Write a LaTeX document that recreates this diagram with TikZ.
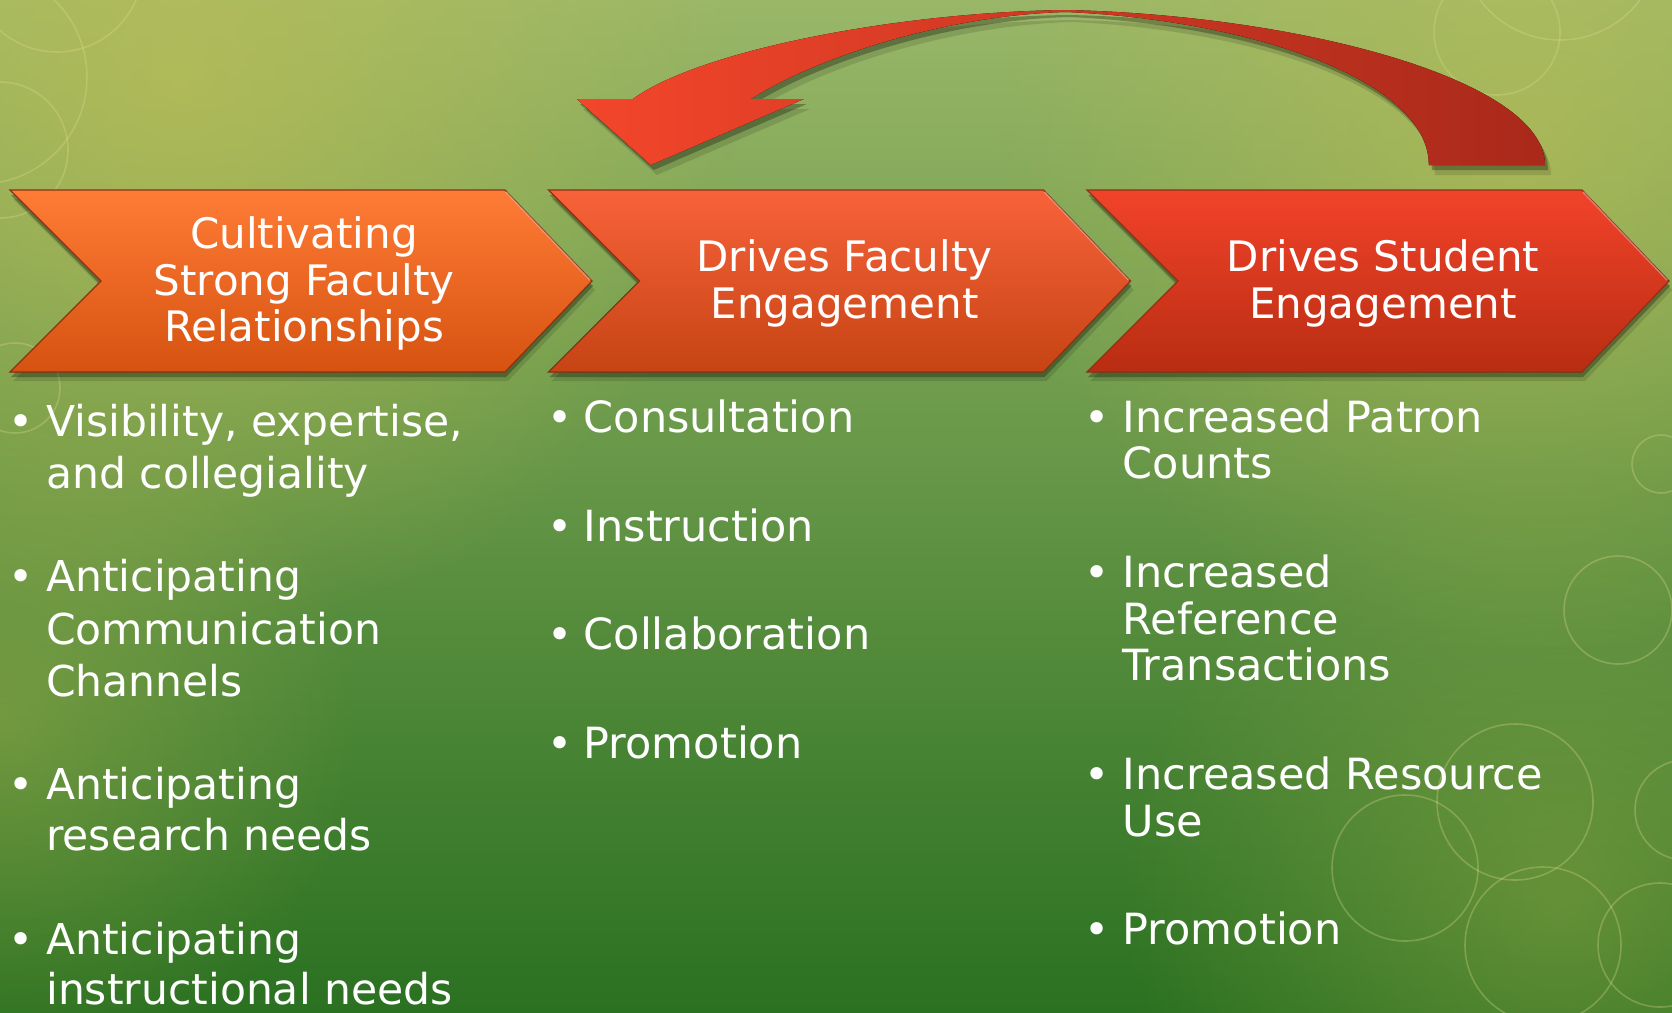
\documentclass[tikz,border=0pt]{standalone}
\usepackage{fontspec}
\setmainfont{DejaVu Sans}
\usetikzlibrary{fadings}
\tikzfading[name=glow, inner color=transparent!0, outer color=transparent!100]
\definecolor{bgtop}{HTML}{9AB768}
\definecolor{bgmid}{HTML}{4F8F3B}
\definecolor{bgbot}{HTML}{2A7121}
\definecolor{glowy}{HTML}{BDBE55}
\definecolor{ringc}{HTML}{E2DC92}
\definecolor{cAt}{HTML}{FF7C36}
\definecolor{cAb}{HTML}{D65210}
\definecolor{cBt}{HTML}{F8623A}
\definecolor{cBb}{HTML}{C64414}
\definecolor{cCt}{HTML}{F2432A}
\definecolor{cCb}{HTML}{B82D12}
\definecolor{chedge}{HTML}{8A3316}
\definecolor{arrL}{HTML}{F3462B}
\definecolor{arrR}{HTML}{A9291A}
\newcommand{\hfont}{\fontsize{42}{46}\selectfont}
\newcommand{\bfontA}{\fontsize{42.5}{46}\selectfont}
\newcommand{\bfontB}{\fontsize{43}{46}\selectfont}
\begin{document}
\begin{tikzpicture}[x=1pt,y=-1pt,
  ring/.style={draw=ringc, opacity=0.3, line width=1.6pt},
  gl/.style={fill=glowy, path fading=glow},
  head/.style={text=white, font=\hfont, anchor=base, inner sep=0pt},
  bl/.style={text=white, font=\bfontB, anchor=base west, inner sep=0pt},
  bla/.style={bl, font=\bfontA},
  bdot/.style={text=white, font=\bfontA, anchor=base, inner sep=0pt},
  shad/.style={fill=black, opacity=0.28},
  shadsoft/.style={fill=black, opacity=0.12}]
\useasboundingbox (0,0) rectangle (1672,1012);
\clip (0,0) rectangle (1672,1012);
% background
\fill[top color=bgtop, middle color=bgmid, bottom color=bgbot] (0,0) rectangle (1672,1012);
\fill[gl, opacity=0.7] (180,80) circle (560pt);
\fill[gl, opacity=0.6] (1520,140) circle (520pt);
\fill[gl, opacity=0.35] (0,720) circle (360pt);
\fill[gl, opacity=0.35] (1560,900) circle (440pt);
% rings
\draw[ring] (57,-34) circle (86pt);
\draw[ring] (-20,77) circle (107pt);
\draw[ring] (0,150) circle (68pt);
\draw[ring] (15,388) circle (45pt);
\draw[ring] (1497,32) circle (63pt);
\draw[ring] (1560,-60) circle (100pt);
\draw[ring] (1661,464) circle (29pt);
\draw[ring] (1618,610) circle (54pt);
\draw[ring] (1515,802) circle (78pt);
\draw[ring] (1405,868) circle (73pt);
\draw[ring] (1543,945) circle (78pt);
\draw[ring] (1660,945) circle (62pt);
\draw[ring] (1685,810) circle (50pt);
% curved arrow
\newcommand{\arrowpath}{(650.8,165) -- (576.8,99) -- (632.9,99)
  .. controls (700,50) and (900,12) .. (1066,10)
  .. controls (1300,15) and (1545,80) .. (1545,165) -- (1428.8,165)
  .. controls (1429,80) and (1250,20) .. (1066,12)
  .. controls (950,15) and (820,55) .. (750.9,99) -- (803.8,99) -- cycle}
\fill[shadsoft, shift={(6,10)}] \arrowpath;
\fill[shad, shift={(3,5)}] \arrowpath;
\fill[left color=arrL, right color=arrR] \arrowpath;
% chevrons
\foreach \x/\ct/\cb in {10/cAt/cAb, 548.5/cBt/cBb, 1087/cCt/cCb}{
  \fill[shadsoft] (\x+3,199) -- ++(495,0) -- ++(87,91) -- ++(-87,91) -- ++(-495,0) -- ++(91,-91) -- cycle;
  \fill[shad] (\x+1,195) -- ++(495,0) -- ++(87,91) -- ++(-87,91) -- ++(-495,0) -- ++(91,-91) -- cycle;
  \filldraw[top color=\ct, bottom color=\cb, draw=chedge, line width=1.2pt]
    (\x,190) -- ++(495,0) -- ++(87,91) -- ++(-87,91) -- ++(-495,0) -- ++(91,-91) -- cycle;
  \draw[white, opacity=0.35, line width=1.5pt] (\x+496,192) -- ++(84,88);
}
% headings
\node[head] (h1a) at (304,248.3) {Cultivating};
\node[head] (h1b) at (304,295) {Strong Faculty};
\node[head] (h1c) at (304,341.7) {Relationships};
\node[head] (h2a) at (844.5,271.7) {Drives Faculty};
\node[head] (h2b) at (844.5,318.3) {Engagement};
\node[head] (h3a) at (1383,271.7) {Drives Student};
\node[head] (h3b) at (1383,318.3) {Engagement};
% column 1
\node[bdot] (d11) at (20.7,436.4) {•};
\node[bla] (t11a) at (46,436.4) {Visibility, expertise,};
\node[bla] (t11b) at (46,488) {and collegiality};
\node[bdot] (d12) at (20.7,591.6) {•};
\node[bla] (t12a) at (46,591.6) {Anticipating};
\node[bla] (t12b) at (46,644) {Communication};
\node[bla] (t12c) at (46,696.4) {Channels};
\node[bdot] (d13) at (20.7,799.2) {•};
\node[bla] (t13a) at (46,799.2) {Anticipating};
\node[bla] (t13b) at (46,850.8) {research needs};
\node[bdot] (d14) at (20.7,954.4) {•};
\node[bla] (t14a) at (46,954.4) {Anticipating};
\node[bla] (t14b) at (46,1004.7) {instructional needs};
% column 2
\node[bdot] (d21) at (559.6,432.4) {•};
\node[bl] (t21) at (583.5,432.4) {Consultation};
\node[bdot] (d22) at (559.6,541.2) {•};
\node[bl] (t22) at (583.5,541.2) {Instruction};
\node[bdot] (d23) at (559.6,649.3) {•};
\node[bl] (t23) at (583.5,649.3) {Collaboration};
\node[bdot] (d24) at (559.6,758.9) {•};
\node[bl] (t24) at (583.5,758.9) {Promotion};
% column 3
\node[bdot] (d31) at (1097,432.4) {•};
\node[bl] (t31a) at (1122.5,432.4) {Increased Patron};
\node[bl] (t31b) at (1122.5,478.7) {Counts};
\node[bdot] (d32) at (1097,587.6) {•};
\node[bl] (t32a) at (1122.5,587.6) {Increased};
\node[bl] (t32b) at (1122.5,634.7) {Reference};
\node[bl] (t32c) at (1122.5,680.3) {Transactions};
\node[bdot] (d33) at (1097,789.1) {•};
\node[bl] (t33a) at (1122.5,789.1) {Increased Resource};
\node[bl] (t33b) at (1122.5,836.3) {Use};
\node[bdot] (d34) at (1097,944.3) {•};
\node[bl] (t34) at (1122.5,944.3) {Promotion};
\end{tikzpicture}
\end{document}
